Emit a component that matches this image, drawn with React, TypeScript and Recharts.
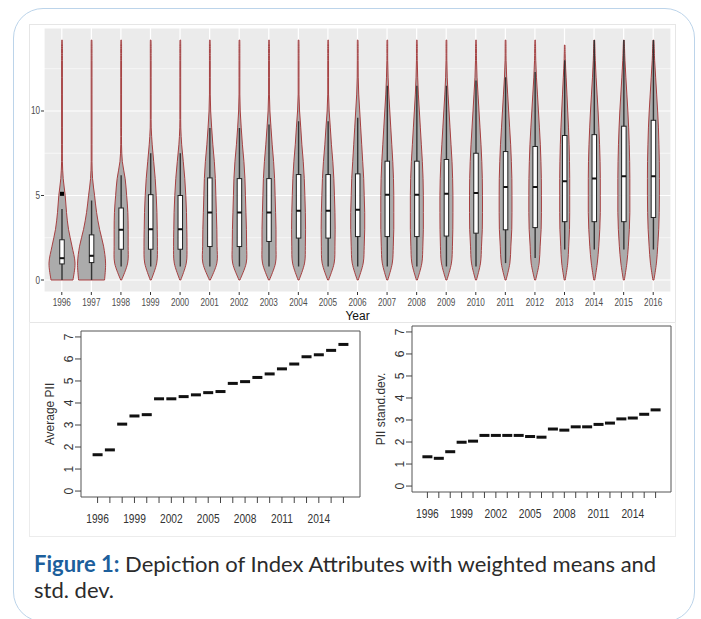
import {
  ComposedChart,
  Bar,
  XAxis,
  YAxis,
  CartesianGrid,
  ScatterChart,
  Scatter,
  ReferenceArea,
} from "recharts";

const YEARS = [
  1996, 1997, 1998, 1999, 2000, 2001, 2002, 2003, 2004, 2005, 2006, 2007, 2008,
  2009, 2010, 2011, 2012, 2013, 2014, 2015, 2016,
];

// violin: top of the thin tail, and half-widths at PII = 0,1,2,...
const VIOLIN_TOP = [
  14.2, 14.2, 14.2, 14.2, 14.2, 14.2, 14.2, 14.2, 14.2, 14.2, 14.2, 14.2, 14.2,
  14.2, 14.2, 14.2, 14.2, 13.9, 14.2, 14.2, 14.2,
];
const VIOLIN_WIDTH = [
  [11, 13, 10, 6.5, 4.5, 3.2, 1.2, 0.4, 0.4, 0.4, 0.4, 0.4, 0.4, 0.4, 0.4],
  [13, 14, 12, 8, 5, 3, 1, 0.4, 0.4, 0.4, 0.4, 0.4, 0.4, 0.4, 0.4],
  [0.5, 6.5, 7, 7, 6.7, 5.5, 4, 1.2, 0.4, 0.4, 0.4, 0.4, 0.4, 0.4, 0.4],
  [0.5, 6, 6.7, 6.5, 6.2, 5.5, 4.5, 3, 1.5, 0.5, 0.4, 0.4, 0.4, 0.4, 0.4],
  [0.5, 6, 6.7, 6.5, 6.2, 5.5, 4.5, 3, 1.4, 0.5, 0.4, 0.4, 0.4, 0.4, 0.4],
  [0.5, 7, 7.2, 7, 6.5, 6, 5.5, 4.5, 3, 1.8, 0.8, 0.4, 0.4, 0.4, 0.4],
  [0.5, 6.8, 7.2, 7, 6.5, 6, 5.5, 4.5, 3, 1.8, 0.8, 0.4, 0.4, 0.4, 0.4],
  [0.5, 6.5, 7, 7, 6.6, 6.1, 5.6, 4.6, 3.2, 2, 0.9, 0.4, 0.4, 0.4, 0.4],
  [0.5, 6, 6.8, 7, 6.8, 6.3, 5.7, 4.7, 3.3, 2.2, 1, 0.4, 0.4, 0.4, 0.4],
  [0.5, 6, 6.8, 7, 6.8, 6.3, 5.7, 4.7, 3.3, 2.2, 1, 0.4, 0.4, 0.4, 0.4],
  [0.5, 5.5, 6.5, 7, 7, 6.5, 6, 5, 4, 3, 2, 1, 0.5, 0.4, 0.4],
  [0.5, 5, 6, 6.5, 6.5, 6.5, 6.2, 5.5, 4.5, 3.5, 2.5, 1.5, 0.8, 0.4, 0.4],
  [0.5, 5, 6, 6.5, 6.5, 6.5, 6.2, 5.5, 4.5, 3.5, 2.5, 1.5, 0.8, 0.4, 0.4],
  [0.5, 5, 6, 6.4, 6.5, 6.5, 6.2, 5.6, 4.6, 3.6, 2.6, 1.6, 0.8, 0.4, 0.4],
  [0.5, 4.5, 5.5, 6.3, 6.5, 6.5, 6.3, 5.8, 5, 4, 3, 2, 1, 0.5, 0.4],
  [0.5, 4.3, 5.3, 6.2, 6.4, 6.4, 6.3, 5.8, 5.1, 4.1, 3.1, 2.1, 1.1, 0.5, 0.4],
  [0.5, 4, 5, 6, 6.3, 6.3, 6.2, 5.8, 5.2, 4.3, 3.3, 2.3, 1.3, 0.6, 0.4],
  [0.5, 3, 4, 4.8, 5, 5, 5, 4.8, 4.4, 3.8, 3, 2.2, 1.4, 0.6],
  [0.5, 3, 4.5, 5.5, 6, 6, 6, 5.8, 5.3, 4.6, 3.8, 2.8, 1.8, 1, 0.5],
  [0.5, 3, 4.5, 5.5, 6, 6, 6, 5.8, 5.4, 4.8, 4, 3, 2, 1.1, 0.5],
  [0.5, 3, 4.3, 5.3, 5.8, 6, 6, 5.9, 5.5, 5, 4.2, 3.2, 2.2, 1.2, 0.6],
];

// boxplot inside each violin
const BOX_Q1 = [
  0.95, 1.03, 1.82, 1.82, 1.82, 1.98, 1.98, 2.28, 2.48, 2.48, 2.57, 2.57, 2.57,
  2.6, 2.77, 2.97, 3.1, 3.45, 3.45, 3.45, 3.7,
];
const BOX_MEDIAN = [
  1.29, 1.43, 2.97, 3.0, 3.0, 4.0, 4.0, 4.0, 4.1, 4.1, 4.16, 5.05, 5.05, 5.1,
  5.15, 5.5, 5.5, 5.84, 6.0, 6.14, 6.14,
];
const BOX_Q3 = [
  2.38, 2.67, 4.26, 5.05, 5.0, 6.04, 6.0, 6.0, 6.24, 6.24, 6.28, 7.03, 7.03,
  7.13, 7.5, 7.6, 7.9, 8.55, 8.6, 9.1, 9.45,
];
const WHISKER_LO = [
  0, 0, 0.8, 0.8, 0.8, 0.8, 0.8, 0.8, 0.8, 0.8, 0.8, 0.8, 0.8, 0.8, 0.8, 1.0,
  1.3, 1.8, 1.8, 1.8, 1.8,
];
const WHISKER_HI = [
  4.2, 4.7, 6.2, 7.5, 7.5, 9.0, 9.0, 9.2, 9.4, 9.4, 9.6, 11.5, 11.5, 11.5, 11.8,
  12.0, 12.3, 13.0, 14.2, 14.2, 14.2,
];
const OUTLIER = [
  5.1, null, null, null, null, null, null, null, null, null, null, null, null,
  null, null, null, null, null, null, null, null,
];

// weighted means and std. dev. per year
const AVG_PII = [
  1.65, 1.87, 3.04, 3.41, 3.47, 4.19, 4.19, 4.29, 4.37, 4.47, 4.52, 4.89, 4.97,
  5.16, 5.32, 5.55, 5.77, 6.1, 6.19, 6.39, 6.66,
];
const SD_PII = [
  1.33, 1.26, 1.56, 1.99, 2.04, 2.3, 2.3, 2.3, 2.3, 2.25, 2.22, 2.59, 2.54,
  2.69, 2.69, 2.8, 2.86, 3.05, 3.09, 3.26, 3.46,
];

const TOP_Y_TICKS = [0, 5, 10];
const TOP_Y_MINOR = [2.5, 7.5, 12.5];
const BOTTOM_Y_TICKS = [0, 1, 2, 3, 4, 5, 6, 7];

const violinRows = YEARS.map((year, i) => ({
  year,
  range: [0, VIOLIN_TOP[i]],
  widths: VIOLIN_WIDTH[i],
  q1: BOX_Q1[i],
  median: BOX_MEDIAN[i],
  q3: BOX_Q3[i],
  lo: WHISKER_LO[i],
  hi: WHISKER_HI[i],
  outlier: OUTLIER[i],
}));
const avgRows = YEARS.map((year, i) => ({ year, value: AVG_PII[i] }));
const sdRows = YEARS.map((year, i) => ({ year, value: SD_PII[i] }));

const R_FONT = "'Liberation Sans', Arial, sans-serif";

// catmull-rom -> bezier through a list of points
function smooth(pts: number[][]) {
  let d = "";
  for (let i = 0; i < pts.length - 1; i++) {
    const p0 = pts[i - 1] || pts[i];
    const p1 = pts[i];
    const p2 = pts[i + 1];
    const p3 = pts[i + 2] || p2;
    const c1x = p1[0] + (p2[0] - p0[0]) / 6;
    const c1y = p1[1] + (p2[1] - p0[1]) / 6;
    const c2x = p2[0] - (p3[0] - p1[0]) / 6;
    const c2y = p2[1] - (p3[1] - p1[1]) / 6;
    d += ` C${c1x},${c1y} ${c2x},${c2y} ${p2[0]},${p2[1]}`;
  }
  return d;
}

const ViolinShape = (props: any) => {
  const { x, y, width, height, payload } = props;
  const top = payload.range[1];
  const cx = x + width / 2;
  const half = width / 2;
  // bar spans 0..top, so values map linearly inside it
  const py = (v: number) => y + height - (v / top) * height;
  const levels: number[][] = [];
  payload.widths.forEach((w: number, v: number) => {
    if (v < top) levels.push([v, w]);
  });
  levels.push([top, 0.3]);
  const right = levels.map(([v, w]) => [cx + (w / 14) * half, py(v)]);
  const left = levels.map(([v, w]) => [cx - (w / 14) * half, py(v)]).reverse();
  const d =
    `M${left[left.length - 1][0]},${left[left.length - 1][1]} L${right[0][0]},${right[0][1]}` +
    smooth(right) +
    ` L${left[0][0]},${left[0][1]}` +
    smooth(left) +
    " Z";
  const bw = 4.5;
  return (
    <g>
      <path d={d} fill="#ababab" stroke="#a63f40" strokeWidth={1} />
      <line x1={cx} x2={cx} y1={py(payload.lo)} y2={py(payload.hi)} stroke="#333" strokeWidth={1.4} />
      <rect
        x={cx - bw / 2}
        y={py(payload.q3)}
        width={bw}
        height={py(payload.q1) - py(payload.q3)}
        fill="#fff"
        stroke="#222"
        strokeWidth={1}
      />
      <line x1={cx - bw / 2} x2={cx + bw / 2} y1={py(payload.median)} y2={py(payload.median)} stroke="#111" strokeWidth={2} />
      {payload.outlier != null && (
        <rect x={cx - 2} y={py(payload.outlier) - 2} width={4} height={4} fill="#000" />
      )}
    </g>
  );
};

const TopXTick = ({ x, y, payload }: any) => (
  <text
    transform={`translate(${x},${y + 9}) scale(0.82,1)`}
    textAnchor="middle"
    fontSize={10}
    fill="#4d4d4d"
    fontFamily={R_FONT}
  >
    {payload.value}
  </text>
);

const TopYTick = ({ x, y, payload }: any) => (
  <text
    transform={`translate(${x},${y + 3.5}) scale(0.82,1)`}
    textAnchor="end"
    fontSize={10}
    fill="#4d4d4d"
    fontFamily={R_FONT}
  >
    {payload.value}
  </text>
);

const BottomXTick = ({ x, y, payload }: any) => {
  if ((payload.value - 1996) % 3 !== 0) return <g />;
  return (
    <text
      transform={`translate(${x},${y + 18}) scale(0.85,1)`}
      textAnchor="middle"
      fontSize={12}
      fill="#333"
      fontFamily={R_FONT}
    >
      {payload.value}
    </text>
  );
};

const BottomYTick = ({ x, y, payload }: any) => (
  <text
    transform={`translate(${x - 2},${y}) rotate(-90)`}
    textAnchor="middle"
    fontSize={12}
    fill="#333"
    fontFamily={R_FONT}
  >
    {payload.value}
  </text>
);

const yTitle = (title: string) => (props: any) => {
  const { x, y, width, height } = props.viewBox;
  const bx = x + width - 27;
  const by = y + height / 2;
  return (
    <text
      transform={`translate(${bx},${by}) rotate(-90)`}
      textAnchor="middle"
      fontSize={12}
      fill="#333"
      fontFamily={R_FONT}
    >
      {title}
    </text>
  );
};

const Dash = (props: any) => (
  <rect x={props.cx - 5} y={props.cy - 1.5} width={10} height={3} fill="#111" />
);

function MeanPanel({
  data,
  title,
  width,
}: {
  data: { year: number; value: number }[];
  title: string;
  width: number;
}) {
  return (
    <ScatterChart width={width} height={215} margin={{ top: 6, right: 9, left: 0, bottom: 0 }}>
      <XAxis
        type="number"
        dataKey="year"
        domain={[1994.65, 2017.35]}
        allowDataOverflow
        ticks={YEARS}
        interval={0}
        axisLine={false}
        tickSize={6}
        tickLine={{ stroke: "#444" }}
        tick={<BottomXTick />}
        height={43}
      />
      <YAxis
        type="number"
        dataKey="value"
        domain={[-0.27, 7.27]}
        allowDataOverflow
        ticks={BOTTOM_Y_TICKS}
        interval={0}
        axisLine={false}
        tickSize={6}
        tickMargin={0}
        tickLine={{ stroke: "#444" }}
        tick={<BottomYTick />}
        width={42}
        label={yTitle(title)}
      />
      <ReferenceArea
        x1={1994.65}
        x2={2017.35}
        y1={-0.27}
        y2={7.27}
        fill="none"
        stroke="#555"
        strokeWidth={1}
      />
      <Scatter data={data} shape={<Dash />} isAnimationActive={false} />
    </ScatterChart>
  );
}

export default function App() {
  return (
    <div style={{ position: "absolute", left: 0, top: 0, width: 701, height: 619, overflow: "hidden", background: "#fff" }}>
      <div
        style={{
          position: "absolute",
          left: 13,
          top: 8,
          width: 680,
          height: 612,
          border: "1.5px solid #bcd4ea",
          borderRadius: 30,
        }}
      />
      <div style={{ position: "absolute", left: 29, top: 24, width: 645, height: 297, border: "1px solid #e6e6e6" }} />
      <div style={{ position: "absolute", left: 29, top: 322, width: 645, height: 214, border: "1px solid #ececec", borderTop: "none" }} />

      <div style={{ position: "absolute", left: 29, top: 24 }}>
        <ComposedChart
          width={646}
          height={300}
          data={violinRows}
          margin={{ top: 4, right: 4, left: 0, bottom: 0 }}
          barSize={28}
        >
          <CartesianGrid fill="#ebebeb" stroke="#fff" strokeWidth={1.2} />
          <CartesianGrid
            stroke="#fff"
            strokeWidth={0.6}
            vertical={false}
            horizontalValues={TOP_Y_MINOR}
          />
          <XAxis
            dataKey="year"
            interval={0}
            padding={{ left: 3, right: 3 }}
            axisLine={false}
            tickSize={3}
            tickLine={{ stroke: "#333" }}
            tick={<TopXTick />}
            height={32}
            label={(p: any) => (
              <text
                x={p.viewBox.x + p.viewBox.width / 2}
                y={p.viewBox.y + 28}
                textAnchor="middle"
                fontSize={12}
                fill="#111"
                fontFamily={R_FONT}
              >
                Year
              </text>
            )}
          />
          <YAxis
            type="number"
            domain={[-0.71, 14.91]}
            allowDataOverflow
            ticks={TOP_Y_TICKS}
            axisLine={false}
            tickSize={3}
            tickMargin={1}
            tickLine={{ stroke: "#333" }}
            tick={<TopYTick />}
            width={15}
          />
          <Bar dataKey="range" shape={<ViolinShape />} isAnimationActive={false} />
        </ComposedChart>
      </div>

      <div style={{ position: "absolute", left: 39, top: 325 }}>
        <MeanPanel data={avgRows} title="Average PII" width={330} />
      </div>
      <div style={{ position: "absolute", left: 370, top: 320 }}>
        <MeanPanel data={sdRows} title="PII stand.dev." width={310} />
      </div>

      <div
        style={{
          position: "absolute",
          left: 34,
          top: 551,
          width: 660,
          fontFamily: "Lato, 'Open Sans', sans-serif",
          fontSize: 22,
          lineHeight: "26px",
          color: "#2b2b2b",
        }}
      >
        <span style={{ color: "#1d5f9c", fontWeight: 700 }}>Figure 1:</span> Depiction of Index
        Attributes with weighted means and
        <br />
        std. dev.
      </div>
    </div>
  );
}
